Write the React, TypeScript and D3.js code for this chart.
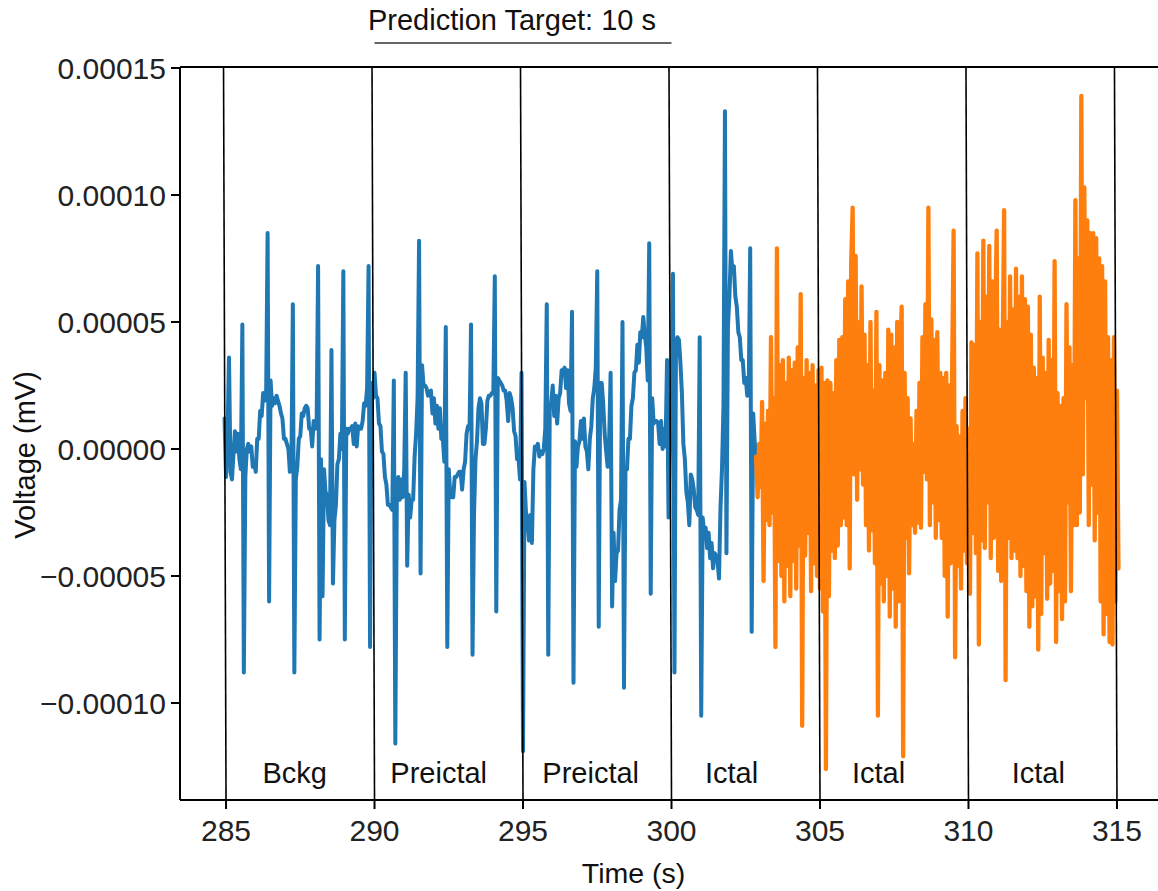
import React from 'react';
import * as d3 from 'd3';

// Signal samples, values in units of 1e-5 mV, sampled every 0.05 s
const sampleStep = 0.05;
const blueStart = 284.95;
const blueValues = [
  1.2,
  -1.1, 0.5, 3.6, -0.9, -1.2, -0.2, 0.7, -0.1, 0.6, -0.4, -0.8, 4.9, -8.8, -1.1, 0.0, 0.2, -0.1, 0.1, -0.7, -0.5,
  -0.9, 0.4, 0.4, 1.5, 1.3, 2.2, 1.9, 2.1, 8.5, -6.0, 2.7, 1.7, 2.0, 1.8, 2.1, 1.9, 1.7, 1.4, 1.2, 0.4,
  0.4, 0.2, 0.0, -0.9, -0.8, 5.7, -8.8, -1.2, -0.7, 0.4, 0.5, 1.4, 1.3, 1.6, 1.7, 1.6, 0.8, 0.8, 0.1, 1.1,
  0.8, 0.9, 7.2, -7.5, -0.4, -5.8, -0.8, -1.7, -1.8, -2.8, -3.0, 3.9, -5.3, -2.8, -2.2, -0.6, -0.4, 0.6, 0.0, 7.0,
  -7.5, 0.8, 0.6, 0.8, 0.8, 0.9, 0.2, 1.0, 0.1, 0.9, 0.8, 0.8, 1.1, 1.8, 1.7, 2.4, 7.2, -7.8, 2.6, 2.0,
  3.0, 2.1, 2.0, 1.0, 0.9, -0.1, -0.2, -1.1, -1.4, -2.2, -2.2, -2.3, -2.4, 2.7, -11.6, -2.0, -1.1, -2.0, -1.2, -1.9,
  -0.8, 3.0, -4.6, -1.8, -2.7, -2.0, -2.0, -0.3, 0.6, 2.0, 8.2, -4.9, 3.3, 2.5, 2.5, 2.4, 2.1, 2.2, 2.3, 1.4,
  2.0, 1.0, 1.7, 0.8, 1.6, 0.4, 0.4, -0.5, 4.8, -7.8, -0.8, -1.8, -1.9, -1.9, -1.1, -1.1, -1.0, -0.9, -0.9, -1.6,
  -0.8, -0.5, 0.6, 0.9, 0.8, 4.9, -8.1, -2.6, -0.4, 0.3, 1.6, 2.0, 1.8, 0.2, 0.2, 0.8, 1.9, 2.1, 2.1, 2.2,
  2.2, 6.8, -6.4, 2.8, 2.7, 2.6, 2.5, 2.3, 2.3, 1.9, 1.1, 2.2, 2.0, 1.6, 0.7, 0.5, -0.4, -0.4, -1.2, 3.0,
  -11.9, -1.3, -2.5, -2.8, -3.6, -2.6, -3.7, -0.8, 0.1, 0.0, 0.2, -0.3, -0.1, -0.2, 0.0, 0.8, 5.7, -8.1, 1.6, 1.8,
  2.5, 1.3, 2.1, 1.0, 2.0, 2.2, 3.1, 3.1, 3.2, 2.4, 3.1, 1.8, 1.5, 5.4, -9.2, 0.3, -0.7, 0.1, 0.3, 1.1,
  0.4, 1.2, 0.1, -0.1, -0.8, 0.4, 0.9, 2.0, 2.4, 3.2, 7.0, -7.0, 2.6, 2.6, 1.8, 0.6, -0.1, -0.7, 0.3, 3.0,
  -6.2, -3.3, -5.2, -4.1, -4.0, -2.4, -2.0, 5.0, -9.4, -0.8, -0.8, 0.4, 0.4, 1.7, 2.0, 3.0, 3.1, 4.1, 3.4, 4.6,
  4.4, 5.2, 4.5, 4.0, 2.7, 8.1, -5.7, 2.0, 1.0, 1.1, 1.1, 1.0, 0.2, 1.1, 0.0, 0.8, 0.1, 3.5, -2.7, 1.0,
  1.3, 6.9, -8.8, 4.0, 4.4, 4.3, 3.4, 2.2, 0.2, -0.4, -1.7, -2.1, -3.0, -1.0, -1.2, -1.6, -2.3, -2.4, -2.6, 4.4,
  -10.5, -2.7, -3.3, -3.1, -3.9, -3.3, -4.3, -3.7, -4.7, -4.1, -4.2, -4.4, -5.1, -2.3, -0.8, 1.7, 13.3, -4.1, 4.8, 6.0,
  7.8, 7.0, 7.2, 6.0, 5.6, 4.6, 4.4, 3.5, 3.5, 2.6, 2.8, 2.1, 2.2, 7.9, -7.2, 1.4, 0.3, -0.3,
];

const orangeStart = 302.85;
const orangeValues = [
  -0.3, -1.9, 0.2,
  -1.5, 1.85, -5.2, 1.0, -2.8, 1.5, -3.0, 4.4, -2.5, 2.0, -7.8, 7.9, -4.4, 3.3, -5.0, 3.5, -6.0, 2.6, -4.6, 3.6,
  -5.8, 3.1, -4.4, 3.4, -5.5, 4.0, -3.8, 6.1, -10.9, 2.8, -4.2, 3.5, -3.3, 3.0, -5.6, 3.3, -4.5, 2.5, -5.0, 3.1,
  -5.5, 3.2, -6.4, 2.6, -12.6, 2.7, -5.8, 2.6, -4.0, 2.2, -4.3, 3.5, -3.8, 4.3, -3.0, 4.4, -2.7, 5.9, -3.0, 6.6,
  -4.7, 7.3, 9.5, -1.0, 7.6, -2.0, 5.0, -0.8, 6.4, -1.4, 4.5, -3.0, 3.3, -4.0, 5.0, -3.2, 2.3, -4.5, 5.4, -10.5,
  3.3, -5.3, 2.7, -6.0, 3.0, -5.0, 4.7, -6.6, 4.5, -5.5, 4.0, -7.0, 5.0, -6.0, 3.5, 5.6, -12.1, 3.0, -3.5, 2.0,
  -4.9, 1.2, -3.0, 0.2, -3.3, 1.5, -2.9, 2.6, -3.1, 4.4, -0.9, 5.7, -1.2, 9.5, -3.0, 5.1, -2.1, 4.3, -3.5, 4.6,
  -2.8, 3.0, -3.5, 2.8, -5.0, 3.0, -6.6, 2.5, -4.5, 3.0, 8.6, -8.2, 0.9, -4.6, 0.5, -5.5, 1.5, -4.0, 2.0, -4.5,
  0.8, -5.7, 4.2, -3.3, 4.1, -4.1, 7.7, -7.7, 5.0, -3.6, 8.2, -3.9, 6.0, -2.1, 8.0, -4.3, 6.6, -3.5, 5.0, 8.6,
  -4.8, 4.7, -5.2, 3.5, 9.4, -9.1, 5.0, -3.5, 6.8, -4.3, 5.5, -4.0, 7.1, -4.3, 6.0, -5.0, 6.8, -4.6, 5.9, -5.6,
  5.6, -7.0, 4.5, -6.2, 3.2, -5.8, 2.8, -7.9, 6.0, -6.5, 3.6, -4.1, 3.0, -5.9, 4.3, -5.3, 3.5, -4.8, 7.4, -7.6,
  2.2, -5.6, 1.7, -6.7, 2.0, -6.0, 5.7, -2.1, 4.0, -5.6, 3.3, -3.0, 9.8, -3.0, 7.5, -2.5, 13.9, -1.0, 10.3, 2.0,
  9.0, -3.0, 8.5, -1.4, 8.5, -3.6, 8.3, -2.5, 7.5, -6.0, 7.2, -7.3, 6.6, -6.5, 4.4, -7.6, 3.5, -7.7, 4.4, -6.0,
  2.3, -4.7,
];

const xTicks = [285, 290, 295, 300, 305, 310, 315];
const xTickLabels = ['285', '290', '295', '300', '305', '310', '315'];
const yTicks = [-10, -5, 0, 5, 10, 15]; // units of 1e-5 mV
const yTickLabels = ['\u22120.00010', '\u22120.00005', '0.00000', '0.00005', '0.00010', '0.00015'];

const boundaries = [285, 290, 295, 300, 305, 310, 315];
const segmentLabels = ['Bckg', 'Preictal', 'Preictal', 'Ictal', 'Ictal', 'Ictal'];
const segmentLabelTimes = [287.31, 292.16, 297.28, 302.02, 306.97, 312.35];
const targetSpan = [290, 300];
const titleText = 'Prediction Target: 10 s';
const xLabel = 'Time (s)';
const yLabel = 'Voltage (mV)';

const FONT = '"Liberation Sans", Arial, Helvetica, sans-serif';

export default function App() {
  const W = 1158;
  const H = 891;
  const left = 180, right = 1163, top = 67, bottom = 800;
  const x = d3.scaleLinear().domain([283.45, 316.55]).range([left, right]);
  const y = d3.scaleLinear().domain([-13.82, 15.04]).range([bottom, top]);

  const makeLine = (start: number) =>
    d3
      .line<number>()
      .x((_, i) => x(start + i * sampleStep))
      .y((d) => y(d));

  const blueD = makeLine(blueStart)(blueValues) || '';
  const orangeD = makeLine(orangeStart)(orangeValues) || '';

  return (
    <svg
      width={W}
      height={H}
      style={{ position: 'absolute', left: 0, top: 0, display: 'block' }}
    >
      <rect x={0} y={0} width={W} height={H} fill="#ffffff" />

      <path d={blueD} fill="none" stroke="#1f77b4" strokeWidth={4} strokeLinejoin="round" strokeLinecap="round" />
      <path d={orangeD} fill="none" stroke="#ff7f0e" strokeWidth={4.3} strokeLinejoin="round" strokeLinecap="round" />

      {boundaries.map((b, i) => (
        <line key={'b' + i} x1={x(b) - 2.5} y1={top} x2={x(b)} y2={bottom} stroke="#000" strokeWidth={1.6} />
      ))}

      {/* spines */}
      <line x1={left} y1={top} x2={left} y2={bottom} stroke="#000" strokeWidth={2} />
      <line x1={left} y1={top} x2={right} y2={top} stroke="#000" strokeWidth={2} />
      <line x1={left} y1={bottom} x2={right} y2={bottom} stroke="#000" strokeWidth={2} />
      <line x1={right} y1={top} x2={right} y2={bottom} stroke="#000" strokeWidth={2} />

      {/* x ticks */}
      {xTicks.map((t, i) => (
        <g key={'xt' + i}>
          <line x1={x(t)} y1={bottom} x2={x(t)} y2={bottom + 9} stroke="#000" strokeWidth={2} />
          <text x={x(t)} y={841} textAnchor="middle" fontFamily={FONT} fontSize={30} fill="#222">
            {xTickLabels[i]}
          </text>
        </g>
      ))}

      {/* y ticks */}
      {yTicks.map((v, i) => (
        <g key={'yt' + i}>
          <line x1={left - 9} y1={y(v)} x2={left} y2={y(v)} stroke="#000" strokeWidth={2} />
          <text x={166} y={y(v)} dy="0.36em" textAnchor="end" fontFamily={FONT} fontSize={30} fill="#222">
            {yTickLabels[i]}
          </text>
        </g>
      ))}

      {/* segment labels */}
      {segmentLabels.map((s, i) => (
        <text key={'s' + i} x={x(segmentLabelTimes[i])} y={783} textAnchor="middle" fontFamily={FONT} fontSize={29} fill="#111">
          {s}
        </text>
      ))}

      {/* title + underline */}
      <text x={512} y={30} textAnchor="middle" fontFamily={FONT} fontSize={29} fill="#111">
        {titleText}
      </text>
      <line x1={x(targetSpan[0])} y1={43} x2={x(targetSpan[1])} y2={43} stroke="#333" strokeWidth={1.6} />

      {/* axis labels */}
      <text x={633.5} y={883} textAnchor="middle" fontFamily={FONT} fontSize={28.5} fill="#111">
        {xLabel}
      </text>
      <text
        transform={`translate(35, 455) rotate(-90)`}
        textAnchor="middle"
        fontFamily={FONT}
        fontSize={29}
        fill="#111"
      >
        {yLabel}
      </text>
    </svg>
  );
}
